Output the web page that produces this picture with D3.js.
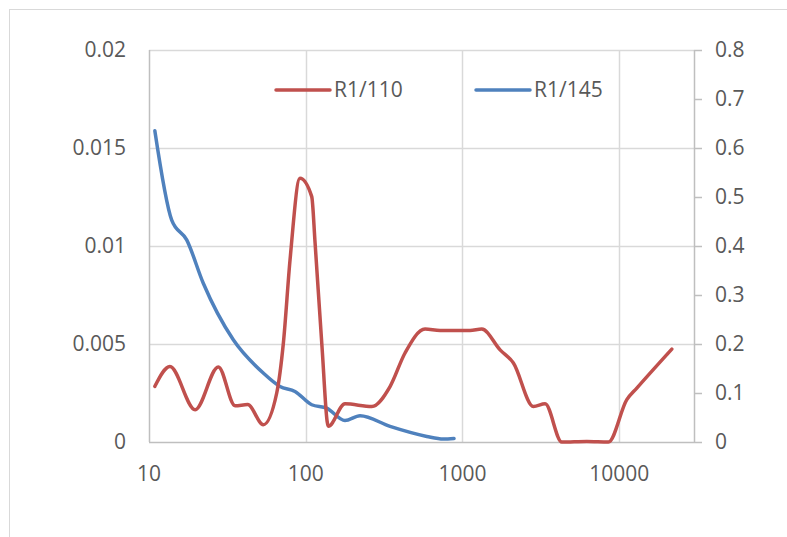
<!DOCTYPE html>
<html>
<head>
<meta charset="utf-8">
<script src="https://cdn.jsdelivr.net/npm/d3@7"></script>
<style>
  body { margin: 0; background: #fff; }
  text { font-family: "Open Sans", "Noto Sans", sans-serif; fill: #595959; }
</style>
</head>
<body>
<svg id="chart" width="787" height="537"></svg>
<script>
// data
var seriesNames = ["R1/110", "R1/145"]
var redX = [10.9, 13.6, 19.7, 27.7, 35.4, 42.6, 53.6, 65.3, 72, 79.4, 91.9, 109.2, 114.7, 126.5, 139.4, 178, 264, 345, 430, 577, 719, 1118, 1328, 1738, 2113, 2835, 3366, 4302, 6213, 8534, 11180, 12950, 21660]
var redY = [0.00284, 0.00385, 0.00165, 0.00383, 0.00185, 0.00191, 0.00088, 0.0025, 0.00505, 0.00929, 0.01346, 0.01252, 0.01016, 0.00506, 0.0008, 0.00195, 0.00181, 0.00283, 0.00454, 0.00576, 0.00569, 0.00569, 0.00576, 0.0047, 0.00403, 0.00181, 0.00195, 0, 0.00003, 0, 0.00216, 0.00275, 0.00474]
var blueX = [10.9, 13.96, 17.4, 22.2, 34.5, 53.6, 68.5, 85.4, 109.2, 136, 178, 222, 345, 592, 755, 883]
var blueY = [0.635, 0.453, 0.4125, 0.324, 0.2086, 0.1407, 0.1134, 0.1032, 0.076, 0.0693, 0.044, 0.0536, 0.0318, 0.0114, 0.0061, 0.0073]
var xTicks = [10, 100, 1000, 10000]
var leftTicks = [0, 0.005, 0.01, 0.015, 0.02]
var rightTicks = [0, 0.1, 0.2, 0.3, 0.4, 0.5, 0.6, 0.7, 0.8]

var svg = d3.select("#chart")
const plot = { left: 149, right: 694, top: 50, bottom: 442 }
var x = d3.scaleLog().domain([10, 30000]).range([plot.left, plot.right])
var yL = d3.scaleLinear().domain([0, 0.02]).range([plot.bottom, plot.top])
var yR = d3.scaleLinear().domain([0, 0.8]).range([plot.bottom, plot.top])

// chart area border (cut off at right/bottom like the screenshot)
svg.append("rect").attr("x", 9.5).attr("y", 9.5).attr("width", 820).attr("height", 600).attr("fill", "none").attr("stroke", "#d9d9d9")

//----------------------------------------------------------- grid
svg.selectAll(".hgrid").data(leftTicks.slice(1)).join("line").attr("class", "hgrid")
  .attr("x1", plot.left).attr("x2", plot.right).attr("y1", d => Math.round(yL(d)) + .5).attr("y2", d => Math.round(yL(d)) + .5)
  .attr("stroke", "#d9d9d9").attr("stroke-width", 1.5)
svg.selectAll(".vgrid").data(xTicks.slice(1)).join("line").attr("class", "vgrid")
  .attr("x1", d => Math.round(x(d)) + .5).attr("x2", d => Math.round(x(d)) + .5).attr("y1", plot.top).attr("y2", plot.bottom)
  .attr("stroke", "#d9d9d9").attr("stroke-width", 1.5)

// axis lines
svg.append("line").attr("x1", plot.left + .5).attr("x2", plot.left + .5).attr("y1", plot.top).attr("y2", plot.bottom).attr("stroke", "#bfbfbf").attr("stroke-width", 1.5)
svg.append("line").attr("x1", plot.right + .5).attr("x2", plot.right + .5).attr("y1", plot.top).attr("y2", plot.bottom).attr("stroke", "#bfbfbf").attr("stroke-width", 1.5)
svg.append("line").attr("x1", plot.left).attr("x2", plot.right).attr("y1", plot.bottom + .5).attr("y2", plot.bottom + .5).attr("stroke", "#bfbfbf").attr("stroke-width", 1.5)
svg.selectAll(".rtick").data(rightTicks).join("line").attr("class", "rtick")
  .attr("x1", plot.right).attr("x2", plot.right + 8).attr("y1", d => Math.round(yR(d)) + .5).attr("y2", d => Math.round(yR(d)) + .5)
  .attr("stroke", "#bfbfbf").attr("stroke-width", 1.5)

//----------------------------------------------------------- tick labels
svg.selectAll(".ltxt").data(leftTicks).join("text").attr("class", "ltxt")
  .attr("x", 126).attr("y", d => yL(d)).attr("dy", "0.35em").attr("text-anchor", "end").attr("font-size", 21).text(d => d)
svg.selectAll(".rtxt").data(rightTicks).join("text").attr("class", "rtxt")
  .attr("x", 715).attr("y", d => yR(d)).attr("dy", "0.35em").attr("font-size", 21).text(d => d)
svg.selectAll(".xtxt").data(xTicks).join("text").attr("class", "xtxt")
  .attr("x", d => x(d)).attr("y", 474).attr("dy", "0.35em").attr("text-anchor", "middle").attr("font-size", 21).text(d => d)

//----------------------------------------------------------- lines
var red = redX.map((d, i) => [d, redY[i]])
var blue = blueX.map((d, i) => [d, blueY[i]])
svg.append("path").datum(blue).attr("fill", "none").attr("stroke", "#4f81bd").attr("stroke-width", 3.5).attr("stroke-linecap", "round")
  .attr("d", d3.line().x(d => x(d[0])).y(d => yR(d[1])).curve(d3.curveMonotoneX))
svg.append("path").datum(red).attr("fill", "none").attr("stroke", "#c0504d").attr("stroke-width", 3.5).attr("stroke-linecap", "round")
  .attr("d", d3.line().x(d => x(d[0])).y(d => yL(d[1])).curve(d3.curveMonotoneX))

//----------------------------------------------------------- legend
var legend = [{ name: seriesNames[0], color: "#c0504d", x: 276 }, { name: seriesNames[1], color: "#4f81bd", x: 476 }]
svg.selectAll(".leg_line").data(legend).join("line").attr("class", "leg_line")
  .attr("x1", d => d.x).attr("x2", d => d.x + 54).attr("y1", 90).attr("y2", 90).attr("stroke", d => d.color).attr("stroke-width", 3.5).attr("stroke-linecap", "round")
svg.selectAll(".leg_txt").data(legend).join("text").attr("class", "leg_txt")
  .attr("x", d => d.x + 58).attr("y", 90).attr("dy", "0.35em").attr("font-size", 21).text(d => d.name)
</script>
</body>
</html>
